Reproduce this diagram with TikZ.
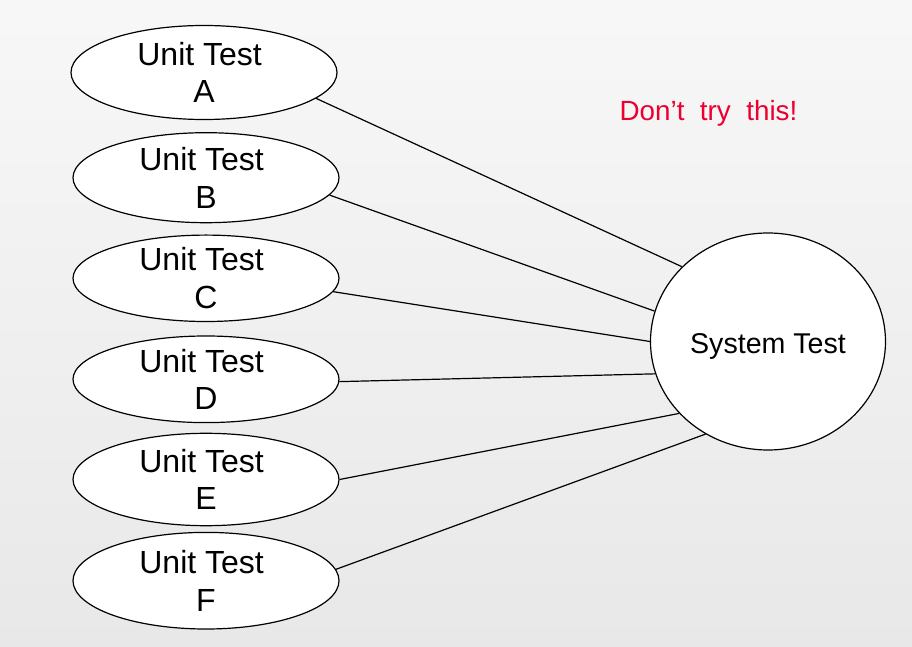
\documentclass[tikz,border=0pt]{standalone}
\usepackage{fontspec}
\setmainfont{Liberation Sans}
\usepackage{xcolor}
\usetikzlibrary{shapes.geometric}
\definecolor{warnred}{RGB}{235,0,48}
\begin{document}
\begin{tikzpicture}[x=0.5pt,y=-0.5pt,
	unit/.style={draw,ellipse,fill=white,line width=0.6pt,inner sep=0pt,align=center,minimum width=133pt,font=\fontsize{16}{18.8}\selectfont},
	sys/.style={draw,ellipse,fill=white,line width=0.6pt,inner sep=0pt,minimum width=117.5pt,minimum height=108.5pt,font=\fontsize{14.3}{16}\selectfont},
	link/.style={line width=0.6pt}]
	\shade[top color=white!97!black,bottom color=white!91!black] (0,0) rectangle (912,647);
	\useasboundingbox (0,0) rectangle (912,647);
	
	\node (A)[unit,minimum height=47pt] at (204,72.5) {Unit Test\hspace*{4.4pt}\\A};
	\node (B)[unit,minimum height=45pt] at (206,177.7) {Unit Test\hspace*{4.4pt}\\B};
	\node (C)[unit,minimum height=41pt] at (206,278.3) {Unit Test\hspace*{4.4pt}\\C};
	\node (D)[unit,minimum height=43.3pt] at (206,379.3) {Unit Test\hspace*{4.4pt}\\D};
	\node (E)[unit,minimum height=46.2pt] at (206,479.5) {Unit Test\hspace*{4.4pt}\\E};
	\node (F)[unit,minimum height=48.3pt] at (206,580.7) {Unit Test\hspace*{4.4pt}\\F};
	\node (S)[sys] at (768,341.5) {\raisebox{-2.5pt}[\height][\depth]{System Test}};
	
	\node (W)[anchor=base,text=warnred,font=\fontsize{13.9}{16}\selectfont] at (708.5,121) {Don’t\ \ try\ \ this!};
	
	\draw[link] (A.-13)--(S.139);
	\draw[link] (B.-8)--(S.165.5);
	\draw[link] (C.-6)--(S.180.4);
	\draw[link] (D.-1.7)--(S.196.3);
	\draw[link] (E.0)--(S.219.8);
	\draw[link] (F.5)--(S.236.4);
\end{tikzpicture}
\end{document}
